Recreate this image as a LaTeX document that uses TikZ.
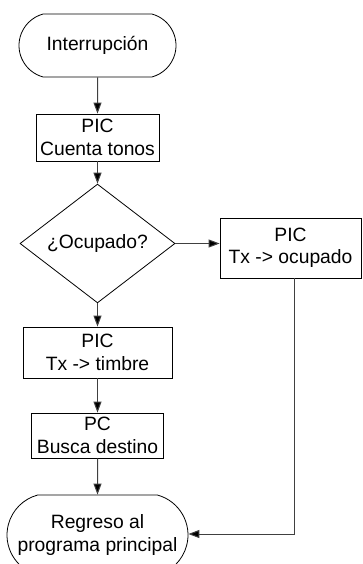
\documentclass[tikz,border=0pt]{standalone}
\usepackage{fontspec}
\setmainfont{Liberation Sans}
\usetikzlibrary{shapes.geometric,shapes.misc,arrows.meta}
\tikzset{
  base/.style={font=\fontsize{19.3}{22.3}\selectfont, align=center, inner sep=0pt, line width=0.8pt, draw=black},
  term/.style={base, rounded rectangle, rounded rectangle arc length=150},
  proc/.style={base, rectangle},
  dec/.style={base, diamond},
  flow/.style={draw=black!75, line width=1pt, -{Triangle[length=11pt,width=8pt,fill=black]}},
}
\begin{document}
\begin{tikzpicture}[x=1pt,y=-1pt]
\useasboundingbox (0,0) rectangle (362,564);
\clip (0,0) rectangle (362,564);
\node[term, minimum width=157pt, minimum height=63pt] (t1) at (97.5,45.5) {Interrupción};
\node[proc, minimum width=123pt, minimum height=47pt] (b1) at (97.5,137.5) {PIC\\Cuenta tonos};
\node[dec, minimum width=155pt, minimum height=93pt] (d) at (97.5,243.5) {¿Ocupado?};
\node[proc, minimum width=141pt, minimum height=60pt] (b2) at (290.5,248) {PIC\\Tx -> ocupado};
\node[proc, minimum width=149pt, minimum height=51pt] (b3) at (97.5,352.5) {PIC\\Tx -> timbre};
\node[proc, minimum width=132pt, minimum height=45pt] (b4) at (97.5,435.5) {PC\\Busca destino};
\node[term, minimum width=181pt, minimum height=80pt] (t2) at (97.5,535) {Regreso al\\programa principal};
\coordinate (c) at (294,534);
\draw[flow] (t1) -- (b1);
\draw[flow] (b1) -- (d);
\draw[flow] (d.east) -- (d.east -| b2.west);
\draw[flow] (d) -- (b3);
\draw[flow] (b3) -- (b4);
\draw[flow] (b4) -- (t2);
\draw[flow] (b2.south -| c) -- (c) -- (t2.east |- c);
\end{tikzpicture}
\end{document}
